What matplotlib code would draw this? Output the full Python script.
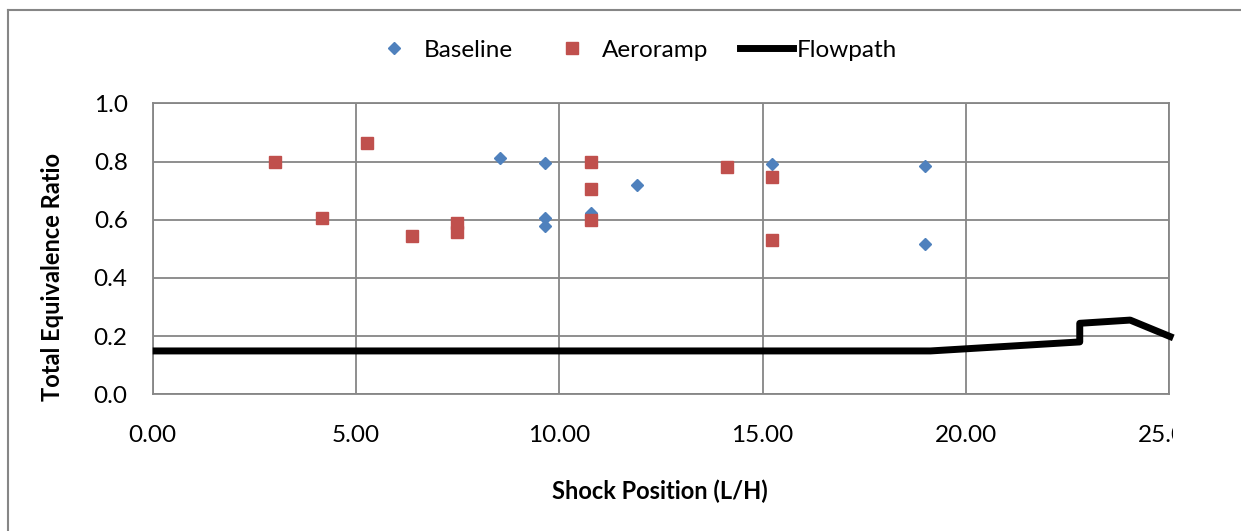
import matplotlib
matplotlib.use("Agg")
import matplotlib.pyplot as plt
from matplotlib.lines import Line2D
from matplotlib.transforms import Bbox, TransformedBbox

plt.rcParams['font.family'] = ['Lato', 'DejaVu Sans']

# shock position (L/H) vs total equivalence ratio
baseline_x = [8.55, 9.66, 9.66, 9.66, 10.78, 11.9, 15.23, 18.99, 18.99]
baseline_y = [0.813, 0.795, 0.607, 0.580, 0.622, 0.718, 0.790, 0.786, 0.516]

aeroramp_x = [3.0, 4.16, 5.27, 6.38, 7.48, 7.48, 10.79, 10.79, 10.79, 14.13, 15.23, 15.23]
aeroramp_y = [0.800, 0.605, 0.864, 0.545, 0.590, 0.558, 0.799, 0.705, 0.599, 0.782, 0.746, 0.530]

# flowpath outline (scaled)
flow_x = [0.0, 19.13, 22.8, 22.8, 24.04, 25.1]
flow_y = [0.149, 0.149, 0.180, 0.244, 0.255, 0.194]

x_ticks = [0, 5, 10, 15, 20, 25]
y_ticks = [0.0, 0.2, 0.4, 0.6, 0.8, 1.0]

W, H = 1241, 531
fig = plt.figure(figsize=(W / 100, H / 100), dpi=100)
fig.patch.set_facecolor('white')

left, right, top, bottom = 152.7, 1169.2, 103.3, 394.3
ax = fig.add_axes([left / W, 1 - bottom / H, (right - left) / W, (bottom - top) / H])

grid_c = '#868686'
ax.set_xlim(0, 25)
ax.set_ylim(0, 1.0)
ax.set_xticks(x_ticks)
ax.set_yticks(y_ticks)
ax.set_xticklabels(['%.2f' % v for v in x_ticks])
ax.set_yticklabels(['%.1f' % v for v in y_ticks])
ax.tick_params(axis='both', length=0, labelsize=17.5, colors='black')
ax.tick_params(axis='x', pad=22)
ax.tick_params(axis='y', pad=18)
ax.grid(True, color=grid_c, linewidth=1.3)
ax.set_axisbelow(True)
for s in ax.spines.values():
    s.set_color(grid_c)
    s.set_linewidth(1.3)

ax.plot(flow_x, flow_y, color='black', linewidth=5, solid_joinstyle='round',
        solid_capstyle='butt', clip_on=False, zorder=3)
ax.plot(baseline_x, baseline_y, linestyle='none', marker='D', markersize=6.4,
        color='#4F81BD', zorder=4)
ax.plot(aeroramp_x, aeroramp_y, linestyle='none', marker='s', markersize=8.6,
        color='#C0504D', zorder=5)

# right side of the x tick labels is cut off
cut = TransformedBbox(Bbox([[0, 0], [1173 / W, 1]]), fig.transFigure)
for lbl in ax.get_xticklabels():
    lbl.set_clip_box(cut)
    lbl.set_clip_on(True)

fig.text(660 / W, 1 - 491 / H, 'Shock Position (L/H)', ha='center', va='center',
         fontsize=17, fontweight='bold')
fig.text(53 / W, 1 - 277 / H, 'Total Equivalence Ratio', ha='center', va='center',
         rotation=90, fontsize=17, fontweight='bold')

handles = [
    Line2D([], [], linestyle='none', marker='D', markersize=6.4, color='#4F81BD'),
    Line2D([], [], linestyle='none', marker='s', markersize=8.6, color='#C0504D'),
    Line2D([], [], color='black', linewidth=5),
]
fig.legend(handles, ['Baseline', 'Aeroramp', 'Flowpath'], loc='center',
           bbox_to_anchor=(632 / W, 1 - 50 / H), ncol=3, frameon=False,
           fontsize=17.5, handlelength=2.2, handletextpad=0.14, columnspacing=1.3)

# chart border
fig.add_artist(Line2D([8 / W, 8 / W], [0, 1 - 10 / H], transform=fig.transFigure,
                      color=grid_c, linewidth=1.5))
fig.add_artist(Line2D([8 / W, 1], [1 - 10 / H, 1 - 10 / H], transform=fig.transFigure,
                      color=grid_c, linewidth=1.5))

fig.savefig('out.png', dpi=100)
